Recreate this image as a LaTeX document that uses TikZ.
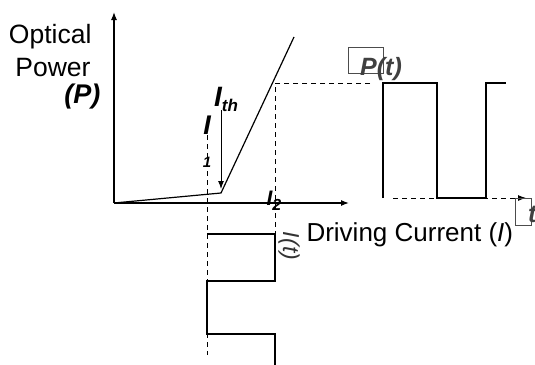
\documentclass[tikz,border=0pt]{standalone}
\usepackage{fontspec}
\setmainfont{Liberation Sans}
\usetikzlibrary{arrows,arrows.meta,positioning}

\begin{document}
\begin{tikzpicture}[x=1pt,y=-1pt]
\useasboundingbox (0,0) rectangle (535,364);
% Axes of the L-I curve
\coordinate (o) at (114,203);
\coordinate (ytop) at (114,12);
\coordinate (xend) at (349,203);
\draw[-{Latex[length=8pt,width=6pt]},line width=1.2pt] (o) -- (ytop);
\draw[-{Latex[length=8pt,width=6pt]},line width=1.2pt] (o) -- (xend);
\node[anchor=base east,font=\fontsize{26.5}{30}\selectfont] (optical) at (95,43) {Optical};
\node[anchor=base east,font=\fontsize{26.5}{30}\selectfont] (power) at (94,76) {Power};
\node[anchor=base east,font=\fontsize{27}{30}\selectfont\bfseries\itshape] (pp) at (104,103) {(P)};
\node[anchor=base west,font=\fontsize{26}{30}\selectfont] (drive) at (303,241) {Driving Current (\textit{I})};

% Laser characteristic
\coordinate (knee) at (221,193);
\coordinate (lasing) at (294,37);
\draw[line width=1.2pt] (o) -- (knee) -- (lasing);

% Threshold current
\node[anchor=base west,inner sep=0pt,font=\fontsize{28}{30}\selectfont\bfseries\itshape] (ith) at (214,106) {I\raisebox{-0.2em}{\fontsize{17}{17}\selectfont th}};
\coordinate (ithtop) at (221,110);
\draw[-{Latex[length=8pt,width=6pt]},line width=1pt,shorten >=4pt] (ithtop) -- (knee);

% Bias levels
\node[inner sep=0pt,align=center,font=\fontsize{27}{27}\selectfont\bfseries\itshape] (ione) at (207,142) {I\\[6pt]{\fontsize{15}{15}\selectfont 1}};
\node[anchor=base,inner sep=0pt,font=\fontsize{21}{21}\selectfont\bfseries\itshape] (itwo) at (274,205) {I\raisebox{-0.25em}{\fontsize{16}{16}\selectfont 2}};
\coordinate (ionetop) at (207,135);
\coordinate (ionebot) at (207,355);
\coordinate (itwotop) at (275,83);
\coordinate (pstart) at (370,83);
\draw[dashed,dash pattern=on 5pt off 4pt,line width=0.9pt] (ionetop) -- (ionebot);
\draw[dashed,dash pattern=on 5pt off 4pt,line width=0.9pt] (pstart) -- (itwotop) -- (275,234);

% Modulated output power
\draw[line width=2pt] (383,198) -- (383,83) -- (437,83) -- (437,198) -- (486,198) -- (486,83) -- (506,83);
\draw[black!70,line width=0.8pt] (348,47) rectangle (383,73);
\node[anchor=base,inner sep=0pt,text=black!75,font=\fontsize{25}{25}\selectfont\bfseries\itshape] (pt) at (381,75) {P(t)};
\coordinate (tstart) at (393,198);
\coordinate (tend) at (526,198);
\draw[-{Latex[length=8pt,width=6pt]},dashed,dash pattern=on 5pt off 4pt,line width=0.9pt] (tstart) -- (tend);
\draw[black!70,line width=0.8pt] (515,198) rectangle (531,225);
\node[anchor=base west,inner sep=0pt,text=black!75,font=\fontsize{25}{25}\selectfont\bfseries\itshape] (tlab) at (528,222) {t};

% Modulating current
\draw[line width=2pt] (207,234) -- (275,234) -- (275,281) -- (207,281) -- (207,334) -- (275,334) -- (275,370);
\node[rotate=-90,inner sep=0pt,text=black!80,font=\fontsize{23}{23}\selectfont\itshape] (it) at (289,246) {I(t)};
\end{tikzpicture}
\end{document}
